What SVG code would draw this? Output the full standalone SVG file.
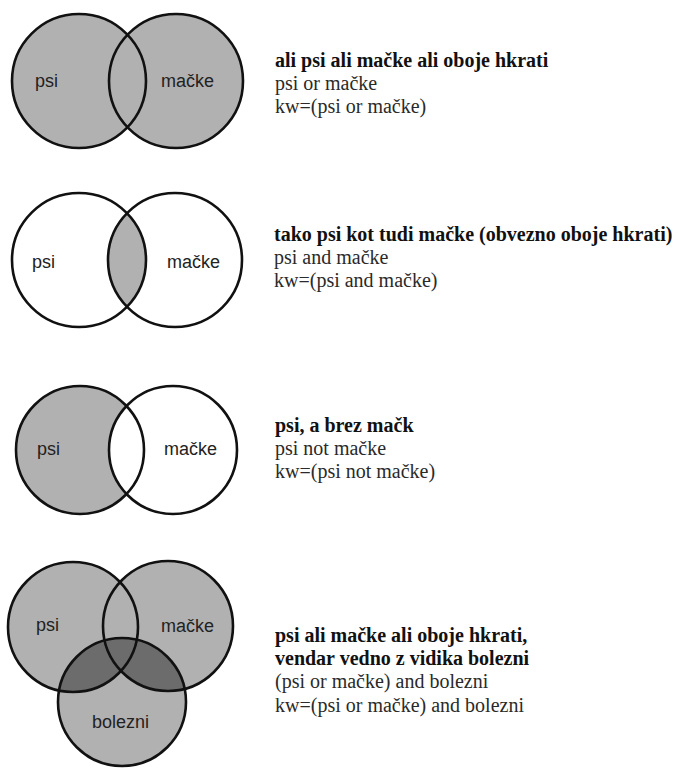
<svg xmlns="http://www.w3.org/2000/svg" width="681" height="768" viewBox="0 0 681 768">
<style>
.bg{fill:#ffffff}
.fill{fill:#b1b1b1;stroke:none}
.dark{fill:#6c6c6c;stroke:none}
.white{fill:#ffffff;stroke:none}
.ring{fill:none;stroke:#111;stroke-width:2.6}
.lbl{font-family:"Liberation Sans",Arial,sans-serif;font-size:18px;fill:#222}
.hd{font-family:"Liberation Serif","Times New Roman",serif;font-size:20px;font-weight:bold;fill:#111}
.tx{font-family:"Liberation Serif","Times New Roman",serif;font-size:20px;fill:#2a2a2a}
</style>
<defs>
<clipPath id="clipPsi2"><circle cx="79" cy="260" r="67"/></clipPath>
<clipPath id="clipBol4"><circle cx="122" cy="702" r="64"/></clipPath>
</defs>
<rect class="bg" x="0" y="0" width="681" height="768"/>

<g id="venn-or">
  <circle class="fill" cx="79" cy="81" r="67"/>
  <circle class="fill" cx="176" cy="81" r="67"/>
  <circle class="ring" cx="79" cy="81" r="67"/>
  <circle class="ring" cx="176" cy="81" r="67"/>
  <text class="lbl" x="35" y="87">psi</text>
  <text class="lbl" x="161" y="87">mačke</text>
</g>
<g id="text-or">
  <text class="hd" x="275" y="67">ali psi ali mačke ali oboje hkrati</text>
  <text class="tx" x="275" y="90">psi or mačke</text>
  <text class="tx" x="275" y="113">kw=(psi or mačke)</text>
</g>

<g id="venn-and">
  <circle class="fill" cx="175" cy="260" r="67" clip-path="url(#clipPsi2)"/>
  <circle class="ring" cx="79" cy="260" r="67"/>
  <circle class="ring" cx="175" cy="260" r="67"/>
  <text class="lbl" x="32" y="268">psi</text>
  <text class="lbl" x="167" y="268">mačke</text>
</g>
<g id="text-and">
  <text class="hd" x="274" y="241">tako psi kot tudi mačke (obvezno oboje hkrati)</text>
  <text class="tx" x="274" y="264">psi and mačke</text>
  <text class="tx" x="274" y="287">kw=(psi and mačke)</text>
</g>

<g id="venn-not">
  <circle class="fill" cx="80" cy="450" r="64"/>
  <circle class="white" cx="173" cy="450" r="64"/>
  <circle class="ring" cx="80" cy="450" r="64"/>
  <circle class="ring" cx="173" cy="450" r="64"/>
  <text class="lbl" x="37" y="455">psi</text>
  <text class="lbl" x="164" y="455">mačke</text>
</g>
<g id="text-not">
  <text class="hd" x="275" y="432">psi, a brez mačk</text>
  <text class="tx" x="275" y="455">psi not mačke</text>
  <text class="tx" x="275" y="478">kw=(psi not mačke)</text>
</g>

<g id="venn-three">
  <circle class="fill" cx="73" cy="627" r="65"/>
  <circle class="fill" cx="168" cy="626" r="65"/>
  <circle class="fill" cx="122" cy="702" r="64"/>
  <g clip-path="url(#clipBol4)">
    <circle class="dark" cx="73" cy="627" r="65"/>
    <circle class="dark" cx="168" cy="626" r="65"/>
  </g>
  <circle class="ring" cx="73" cy="627" r="65"/>
  <circle class="ring" cx="168" cy="626" r="65"/>
  <circle class="ring" cx="122" cy="702" r="64"/>
  <text class="lbl" x="36" y="631">psi</text>
  <text class="lbl" x="161" y="632">mačke</text>
  <text class="lbl" x="92" y="728">bolezni</text>
</g>
<g id="text-three">
  <text class="hd" x="275" y="642">psi ali mačke ali oboje hkrati,</text>
  <text class="hd" x="275" y="665">vendar vedno z vidika bolezni</text>
  <text class="tx" x="275" y="688">(psi or mačke) and bolezni</text>
  <text class="tx" x="275" y="712">kw=(psi or mačke) and bolezni</text>
</g>
</svg>
